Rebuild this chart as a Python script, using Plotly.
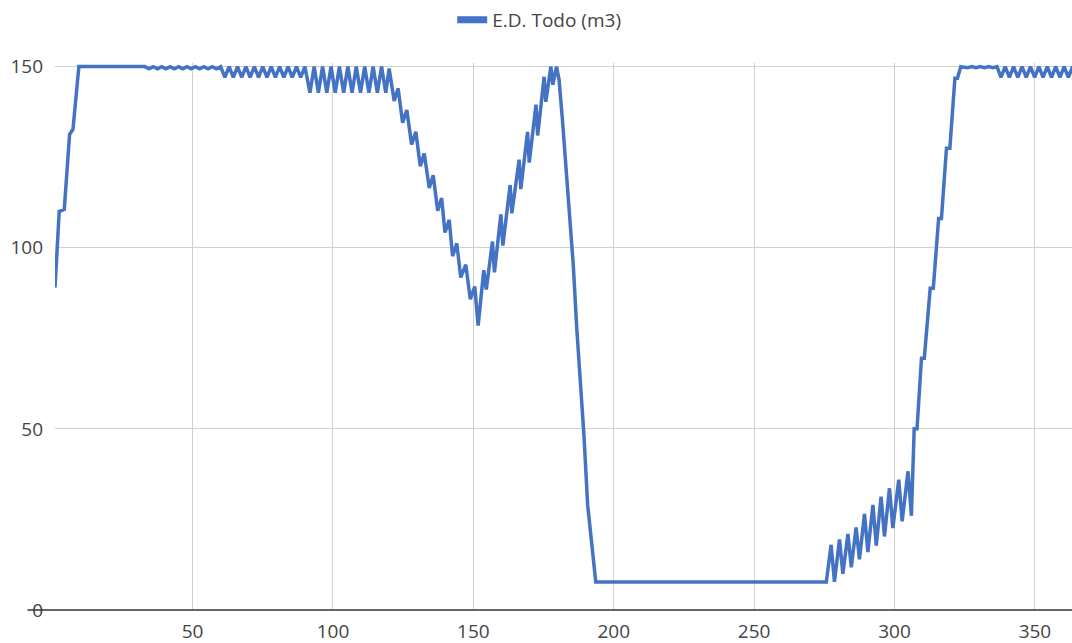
import plotly.graph_objects as go

SERIES_NAME = "E.D. Todo (m3)"
x_ticks = [50, 100, 150, 200, 250, 300, 350]
y_ticks = [0, 50, 100, 150]

# --- day of year (vertices) and stored volume (m3) ---
days_fill = [1, 2.5, 4.3, 6.2, 7.4, 9.5, 33]
vol_fill = [89, 110, 110.6, 131.3, 132.7, 150, 150]

days_tiny = [34.5, 36, 37.5, 39, 40.5, 42, 43.5, 45, 46.5, 48, 49.5, 51, 52.5, 54, 55.5, 57, 58.5, 60]
vol_tiny = [149.4, 150, 149.4, 150, 149.4, 150, 149.4, 150, 149.4, 150, 149.4, 150, 149.4, 150, 149.4, 150, 149.4, 150]

days_small = [61.5, 63, 64.5, 66, 67.5, 69, 70.5, 72, 73.5, 75, 76.5, 78, 79.5, 81, 82.5, 84, 85.5, 87, 88.5, 90]
vol_small = [147, 150, 147, 150, 147, 150, 147, 150, 147, 150, 147, 150, 147, 150, 147, 150, 147, 150, 147, 150]

days_large = [91.8, 93.3, 94.8, 96.3, 97.8, 99.3, 100.8, 102.3, 103.8, 105.3, 106.8, 108.3, 109.8, 111.3, 112.8, 114.3, 115.8, 117.3, 118.8, 120]
vol_large = [142.8, 150, 142.8, 150, 142.8, 150, 142.8, 150, 142.8, 150, 142.8, 150, 142.8, 150, 142.8, 150, 142.8, 150, 142.8, 149.5]

days_descent = [121.8, 123.2, 124.8, 126.3, 128, 129.5, 131.1, 132.5, 134.3, 135.7, 137.3, 138.7, 139.9, 141.4, 142.6, 144.1, 145.5, 147.3, 148.9, 150.5, 151.7]
vol_descent = [140.5, 144, 134.5, 138, 128.5, 132, 122.5, 126, 116.5, 120, 110.2, 113.7, 104.2, 107.7, 97.7, 101.2, 91.8, 95.3, 85.8, 89.3, 78.5]

days_ascent = [153.7, 154.6, 156.8, 157.5, 159.8, 160.5, 163.1, 163.7, 166.3, 166.9, 169.3, 169.9, 172.3, 172.9, 175.2, 175.8, 177.6, 178.3, 179.6]
vol_ascent = [93.8, 88.5, 101.7, 93.2, 109.2, 100.6, 117.3, 109.5, 124.3, 116.2, 132, 123.5, 139.5, 131, 147.2, 140.3, 150, 145, 150]

days_drain = [180.5, 181.7, 183, 184.3, 185.6, 186.8, 188.1, 189.4, 190.7, 191.7, 192.6, 193.6]
vol_drain = [146.5, 135.5, 121, 107, 95, 78, 63, 48, 29, 21, 14.6, 7.7]

days_empty = [275.7]
vol_empty = [7.7]

days_refill = [277.4, 278.6, 280.4, 281.6, 283.4, 284.6, 286.3, 287.5, 289.3, 290.5, 292.3, 293.5, 295.2, 296.4, 298.2, 299.4, 301.5, 302.7, 304.8, 306]
vol_refill = [18, 7.8, 19.5, 10, 21, 11.8, 22.8, 14, 26.5, 16, 29, 17.8, 31.3, 20.3, 33.6, 22.6, 36, 24.5, 38.3, 26]

days_steps = [307, 308, 309.6, 310.6, 312.7, 313.8, 315.7, 316.7, 318.5, 319.7, 321.5, 322.4, 323.6]
vol_steps = [50, 50, 69.5, 69.5, 88.8, 88.8, 108.1, 108.1, 127.5, 127.5, 146.8, 146.8, 150]

days_full_end = [326, 327.5, 329, 330.5, 332, 333.5, 335, 336.5]
vol_full_end = [149.7, 150, 149.7, 150, 149.7, 150, 149.7, 150]

days_tail = [337.9, 339.4, 340.9, 342.4, 343.9, 345.4, 346.9, 348.4, 349.9, 351.4, 352.9, 354.4, 355.9, 357.4, 358.9, 360.4, 361.9, 363.4, 364.9]
vol_tail = [147, 150, 147, 150, 147, 150, 147, 150, 147, 150, 147, 150, 147, 150, 147, 150, 147, 150, 147]

phases = [
    (days_fill, vol_fill), (days_tiny, vol_tiny), (days_small, vol_small),
    (days_large, vol_large), (days_descent, vol_descent), (days_ascent, vol_ascent),
    (days_drain, vol_drain), (days_empty, vol_empty), (days_refill, vol_refill),
    (days_steps, vol_steps), (days_full_end, vol_full_end), (days_tail, vol_tail),
]
day, volume = [], []
for d, v in phases:
    assert len(d) == len(v)
    day += d
    volume += v

BLUE = "#4472C4"
fig = go.Figure()
fig.add_trace(go.Scatter(x=day, y=volume, mode="lines", name=SERIES_NAME,
                         line=dict(color=BLUE, width=3.5), showlegend=False))
# legend entry (thick swatch like the original)
fig.add_trace(go.Scatter(x=[None], y=[None], mode="lines", name=SERIES_NAME,
                         line=dict(color=BLUE, width=7), showlegend=True))

fig.update_layout(
    width=1072, height=643,
    margin=dict(l=55, r=0, t=63, b=33),
    paper_bgcolor="white", plot_bgcolor="white",
    font=dict(family="Open Sans, sans-serif", size=19, color="#444444"),
    legend=dict(orientation="h", xref="container", yref="container",
                x=0.503, y=0.969, xanchor="center", yanchor="middle",
                font=dict(size=19, color="#444444"), itemwidth=30),
    xaxis=dict(range=[1, 363.2], tickvals=x_ticks, showgrid=True,
               gridcolor="#D0D0D0", gridwidth=1, zeroline=False, showline=False,
               ticks="", ticklabelstandoff=8),
    yaxis=dict(range=[0, 151], tickvals=y_ticks, showgrid=True,
               gridcolor="#D0D0D0", gridwidth=1, zeroline=False, showline=False,
               ticks="", ticklabelstandoff=11),
)
fig.add_shape(type="line", xref="paper", yref="paper", x0=-0.027, x1=1, y0=0, y1=0,
              line=dict(color="#333333", width=1.5), layer="above")

fig.write_html("out.html")
